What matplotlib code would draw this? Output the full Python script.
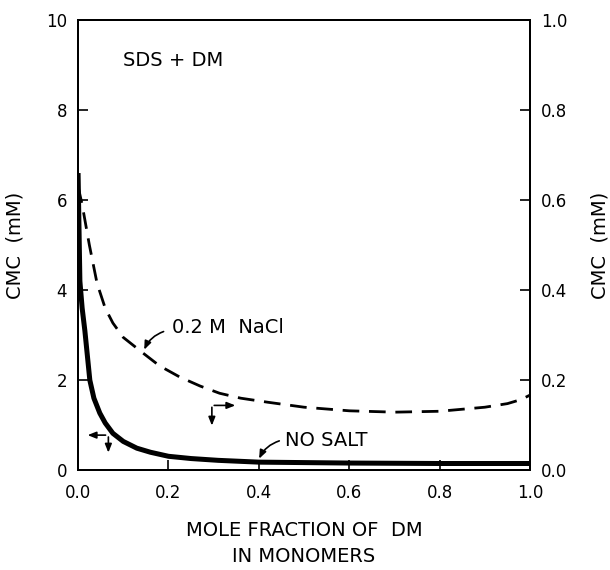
import matplotlib
matplotlib.use("Agg")
import matplotlib.pyplot as plt

# no salt curve (left axis, mM)
x_nosalt = [0.0, 0.002, 0.004, 0.009, 0.015, 0.026, 0.035, 0.048, 0.06, 0.077, 0.1,
            0.13, 0.16, 0.2, 0.25, 0.31, 0.4, 0.5, 0.6, 0.7, 0.8, 0.9, 1.0]
y_nosalt = [6.6, 5.4, 4.2, 3.6, 3.1, 2.0, 1.6, 1.27, 1.05, 0.82, 0.64,
            0.49, 0.40, 0.31, 0.26, 0.22, 0.18, 0.17, 0.16, 0.155, 0.15, 0.15, 0.15]

# 0.2 M NaCl curve (right axis, mM)
x_nacl = [0.0, 0.009, 0.025, 0.042, 0.06, 0.077, 0.1, 0.144, 0.18, 0.225, 0.27,
          0.313, 0.36, 0.42, 0.5, 0.6, 0.7, 0.8, 0.9, 0.95, 0.98, 1.0]
y_nacl = [0.63, 0.59, 0.50, 0.415, 0.36, 0.327, 0.295, 0.26, 0.232, 0.207, 0.187,
          0.171, 0.160, 0.151, 0.140, 0.132, 0.129, 0.131, 0.140, 0.148, 0.157, 0.167]

left_ticks = [0, 2, 4, 6, 8, 10]
right_ticks = [0.0, 0.2, 0.4, 0.6, 0.8, 1.0]
x_ticks = [0.0, 0.2, 0.4, 0.6, 0.8, 1.0]

plt.rcParams['font.family'] = ['DejaVu Sans']

fig = plt.figure(figsize=(6.1, 5.7), dpi=100)
ax = fig.add_axes([0.128, 0.175, 0.741, 0.790])
ax2 = ax.twinx()

ax.plot(x_nosalt, y_nosalt, color='black', lw=3.6, solid_capstyle='butt')
ax2.plot(x_nacl, y_nacl, color='black', lw=2.0, dashes=(6, 3.5))

ax.set_xlim(0, 1)
ax.set_ylim(0, 10)
ax2.set_ylim(0, 1)

ax.set_xticks(x_ticks)
ax.set_xticklabels(['%.1f' % t for t in x_ticks])
ax.set_yticks(left_ticks)
ax2.set_yticks(right_ticks)
ax2.set_yticklabels(['%.1f' % t for t in right_ticks])

for a in (ax, ax2):
    a.tick_params(direction='in', length=7, width=1.2, labelsize=12, pad=8)
    for s in a.spines.values():
        s.set_linewidth(1.4)
ax.tick_params(axis='x', pad=10)

ax.set_ylabel('CMC  (mM)', fontsize=14)
ax.yaxis.set_label_coords(-0.118, 0.5)
ax2.set_ylabel('CMC  (mM)', fontsize=14)
ax2.yaxis.set_label_coords(1.133, 0.5)
ax.set_xlabel('MOLE FRACTION OF  DM\nIN MONOMERS', fontsize=14, linespacing=1.45)
ax.xaxis.set_label_coords(0.5, -0.113)

ax.text(0.10, 9.1, 'SDS + DM', fontsize=14, ha='left', va='center')
ax.text(0.208, 3.16, '0.2 M  NaCl', fontsize=14, ha='left', va='center')
ax.text(0.458, 0.67, 'NO SALT', fontsize=14, ha='left', va='center')

head = dict(arrowstyle='-|>,head_length=0.5,head_width=0.2', color='black', lw=1.2)
ax.annotate('', xy=(0.144, 2.62), xytext=(0.195, 3.1),
            arrowprops=dict(connectionstyle='arc3,rad=0.25', **head))
ax.annotate('', xy=(0.398, 0.2), xytext=(0.451, 0.67),
            arrowprops=dict(connectionstyle='arc3,rad=0.25', **head))

# axis indicators
ax.annotate('', xy=(0.015, 0.78), xytext=(0.067, 0.78), arrowprops=head)
ax.annotate('', xy=(0.067, 0.33), xytext=(0.067, 0.80), arrowprops=head)
ax.annotate('', xy=(0.354, 1.44), xytext=(0.295, 1.44), arrowprops=head)
ax.annotate('', xy=(0.296, 0.93), xytext=(0.296, 1.46), arrowprops=head)

fig.savefig('out.png', dpi=100)
